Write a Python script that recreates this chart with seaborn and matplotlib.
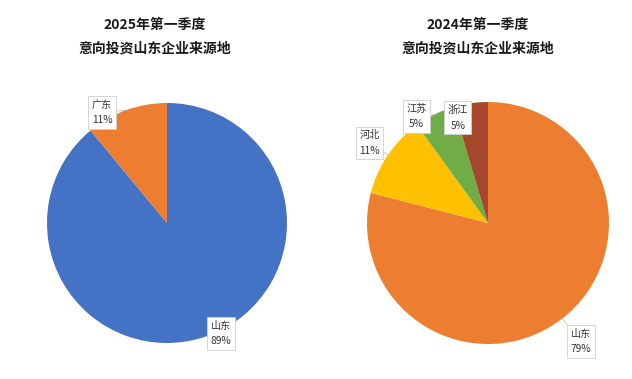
import numpy as np
import matplotlib
matplotlib.use('Agg')
import matplotlib.pyplot as plt
import seaborn as sns

sns.set_theme(style='white')
plt.rcParams['font.family'] = ['Noto Sans CJK SC', 'DejaVu Sans']

# 2025 Q1
regions_2025 = ['山东', '广东']
share_2025 = [89, 11]
colors_2025 = ['#4472C4', '#ED7D31']

# 2024 Q1
regions_2024 = ['山东', '河北', '江苏', '浙江']
share_2024 = [79, 11, 5.4, 4.6]
colors_2024 = ['#ED7D31', '#FFC000', '#70AD47', '#A5472A']

titles = ['2025年第一季度\n意向投资山东企业来源地', '2024年第一季度\n意向投资山东企业来源地']

# label box positions (pie radius = 1)
label_pos_2025 = [(0.45, -0.92), (-0.54, 0.92)]
label_pos_2024 = [(0.77, -0.98), (-0.98, 0.66), (-0.59, 0.88), (-0.25, 0.87)]

fig = plt.figure(figsize=(6.32, 3.79), dpi=100)
fig.patch.set_facecolor('white')

ax1 = fig.add_axes([47/632, 1-343/379, 240/632, 240/379])
ax2 = fig.add_axes([367/632, 1-344/379, 242/632, 242/379])


def draw_pie(ax, names, vals, cols, pos):
    wedges, _ = ax.pie(vals, colors=cols, startangle=90, counterclock=False,
                       wedgeprops=dict(linewidth=0))
    ax.set_xlim(-1, 1)
    ax.set_ylim(-1, 1)
    ax.set_aspect('equal')
    total = sum(vals)
    for w, n, v, p in zip(wedges, names, vals, pos):
        mid = np.deg2rad((w.theta1 + w.theta2) / 2)
        edge = (np.cos(mid), np.sin(mid))
        ax.annotate('%s\n%d%%' % (n, round(v / total * 100)), xy=edge, xytext=p,
                    ha='center', va='center', fontsize=7.3, color='#333333',
                    linespacing=1.7, annotation_clip=False,
                    bbox=dict(boxstyle='square,pad=0.35', fc='white', ec='#cfcfcf', lw=0.6),
                    arrowprops=dict(arrowstyle='-', color='#bfbfbf', lw=0.6,
                                    shrinkA=0, shrinkB=0))


draw_pie(ax1, regions_2025, share_2025, colors_2025, label_pos_2025)
draw_pie(ax2, regions_2024, share_2024, colors_2024, label_pos_2024)

fig.text(155/632, 1-37/379, titles[0], ha='center', va='center', fontsize=10,
         fontweight='bold', color='#1a1a1a', linespacing=1.9)
fig.text(478/632, 1-37/379, titles[1], ha='center', va='center', fontsize=10,
         fontweight='bold', color='#1a1a1a', linespacing=1.9)

fig.savefig('out.png', dpi=100, facecolor='white')
